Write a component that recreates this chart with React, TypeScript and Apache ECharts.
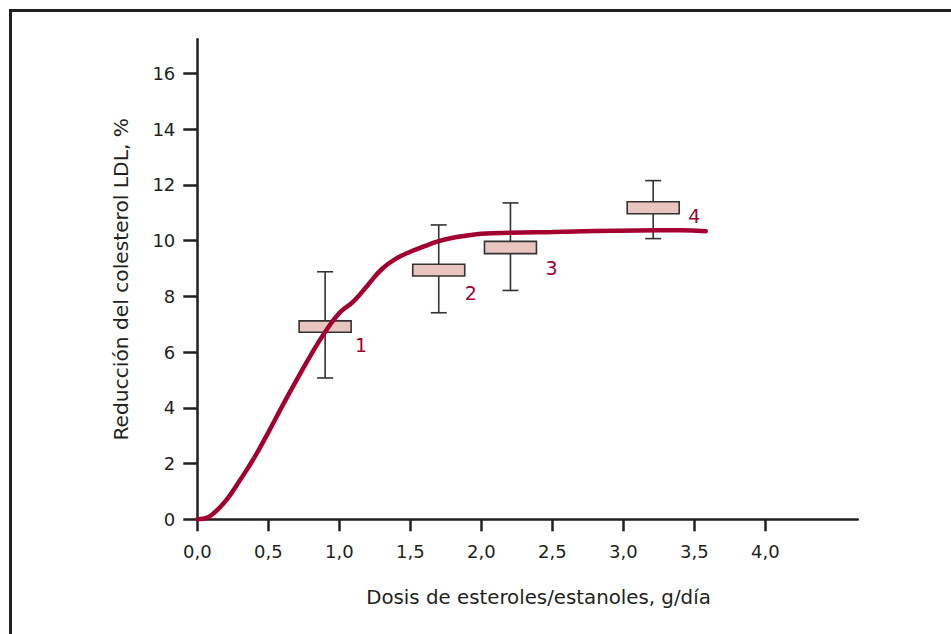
import React, { useEffect, useRef } from "react";
import * as echarts from "echarts";

// ---- data ----
const xTicks = [0, 0.5, 1, 1.5, 2, 2.5, 3, 3.5, 4];
const yTicks = [0, 2, 4, 6, 8, 10, 12, 14, 16];

const curveX = [0, 0.05, 0.1, 0.2, 0.3, 0.4, 0.5, 0.6, 0.7, 0.8, 0.9, 1.0, 1.1, 1.2, 1.3, 1.4, 1.5, 1.6, 1.7, 1.8, 1.9, 2.0, 2.2, 2.5, 2.8, 3.1, 3.4, 3.58];
const curveY = [0, 0.03, 0.15, 0.66, 1.4, 2.2, 3.12, 4.08, 5.0, 5.9, 6.72, 7.4, 7.82, 8.4, 8.98, 9.35, 9.6, 9.8, 9.98, 10.1, 10.18, 10.24, 10.28, 10.31, 10.34, 10.36, 10.37, 10.33];

const boxNames = ["1", "2", "3", "4"];
const boxDose = [0.9, 1.7, 2.205, 3.21];
const whiskerLow = [5.07, 7.41, 8.21, 10.07];
const boxLow = [6.71, 8.73, 9.53, 10.96];
const boxHigh = [7.12, 9.15, 9.97, 11.39];
const whiskerHigh = [8.88, 10.56, 11.35, 12.15];

// ---- layout / style constants ----
const FONT = "'DejaVu Sans', 'Liberation Sans', Arial, sans-serif";
const CURVE_COLOR = "#a3002f";
const INK = "#231f20";
const BOX_FILL = "#e9c5c0";
const BOX_HALF = 26; // px
const CAP_HALF = 8; // px
const labelDx = [10, 6, 15, 15];
const labelDy = [13, 17, 14, 2];

export default function App() {
  const ref = useRef<HTMLDivElement>(null);

  useEffect(() => {
    if (!ref.current) return;
    const chart = echarts.init(ref.current, null, { renderer: "svg" });

    const boxData = boxDose.map((d, i) => [d, whiskerLow[i], boxLow[i], boxHigh[i], whiskerHigh[i], i]);
    const curveData = curveX.map((x, i) => [x, curveY[i]]);

    const fmtX = (v: number) => v.toFixed(1).replace(".", ",");

    chart.setOption({
      animation: false,
      backgroundColor: "#ffffff",
      textStyle: { fontFamily: FONT },
      grid: {
        left: 197.3,
        right: 93.3,
        top: 39.3,
        bottom: 114.7,
        containLabel: false,
        outerBoundsMode: "none",
      },
      xAxis: {
        type: "value",
        min: 0,
        max: 4.65,
        name: "Dosis de esteroles/estanoles, g/día",
        nameLocation: "middle",
        nameGap: 68,
        nameTextStyle: { fontSize: 19.8, color: INK, fontFamily: FONT, padding: [0, 0, 0, 22] },
        axisLine: { show: true, lineStyle: { color: INK, width: 2.5 } },
        axisTick: { show: true, length: 12, lineStyle: { color: INK, width: 2.5 }, customValues: xTicks },
        axisLabel: {
          color: INK,
          fontSize: 18,
          fontFamily: FONT,
          margin: 23,
          customValues: xTicks,
          formatter: (v: number) => fmtX(v),
        },
        splitLine: { show: false },
      },
      yAxis: {
        type: "value",
        min: 0,
        max: 17.22,
        name: "Reducción del colesterol LDL, %",
        nameLocation: "middle",
        nameGap: 66,
        nameTextStyle: { fontSize: 20.2, color: INK, fontFamily: FONT },
        axisLine: { show: true, lineStyle: { color: INK, width: 2.5 } },
        axisTick: { show: true, length: 14, lineStyle: { color: INK, width: 2.5 }, customValues: yTicks },
        axisLabel: {
          color: INK,
          fontSize: 18,
          fontFamily: FONT,
          margin: 22,
          customValues: yTicks,
          formatter: (v: number) => String(v),
        },
        splitLine: { show: false },
      },
      graphic: [
        {
          type: "rect",
          shape: { x: 10.5, y: 10.5, width: 1000, height: 700 },
          style: { fill: "none", stroke: INK, lineWidth: 3 },
          silent: true,
          z: 100,
        },
      ],
      series: [
        {
          type: "custom",
          name: "boxes",
          z: 2,
          encode: { x: 0, y: [1, 2, 3, 4] },
          data: boxData,
          renderItem: (params: any, api: any) => {
            const x = api.value(0);
            const idx = api.value(5);
            const pLo = api.coord([x, api.value(1)]);
            const pQ1 = api.coord([x, api.value(2)]);
            const pQ3 = api.coord([x, api.value(3)]);
            const pHi = api.coord([x, api.value(4)]);
            const lineStyle = { stroke: "#333333", lineWidth: 1.6, fill: "none" };
            return {
              type: "group",
              children: [
                { type: "line", shape: { x1: pHi[0], y1: pHi[1], x2: pQ3[0], y2: pQ3[1] }, style: lineStyle },
                { type: "line", shape: { x1: pQ1[0], y1: pQ1[1], x2: pLo[0], y2: pLo[1] }, style: lineStyle },
                { type: "line", shape: { x1: pHi[0] - CAP_HALF, y1: pHi[1], x2: pHi[0] + CAP_HALF, y2: pHi[1] }, style: lineStyle },
                { type: "line", shape: { x1: pLo[0] - CAP_HALF, y1: pLo[1], x2: pLo[0] + CAP_HALF, y2: pLo[1] }, style: lineStyle },
                {
                  type: "rect",
                  shape: { x: pQ3[0] - BOX_HALF, y: pQ3[1], width: BOX_HALF * 2, height: pQ1[1] - pQ3[1] },
                  style: { fill: BOX_FILL, stroke: "#333333", lineWidth: 1.6 },
                },
                {
                  type: "text",
                  x: pQ1[0] + BOX_HALF + labelDx[idx],
                  y: pQ1[1] + labelDy[idx],
                  style: {
                    text: boxNames[idx],
                    fill: CURVE_COLOR,
                    font: `19px ${FONT}`,
                    align: "center",
                    verticalAlign: "middle",
                  },
                },
              ],
            };
          },
        },
        {
          type: "line",
          name: "curve",
          z: 5,
          data: curveData,
          smooth: 0.45,
          showSymbol: false,
          symbol: "none",
          lineStyle: { color: CURVE_COLOR, width: 4.5, cap: "round" },
        },
      ],
    });

    return () => chart.dispose();
  }, []);

  return (
    <div
      ref={ref}
      style={{ position: "fixed", left: 0, top: 0, width: 951, height: 634, background: "#fff" }}
    />
  );
}
